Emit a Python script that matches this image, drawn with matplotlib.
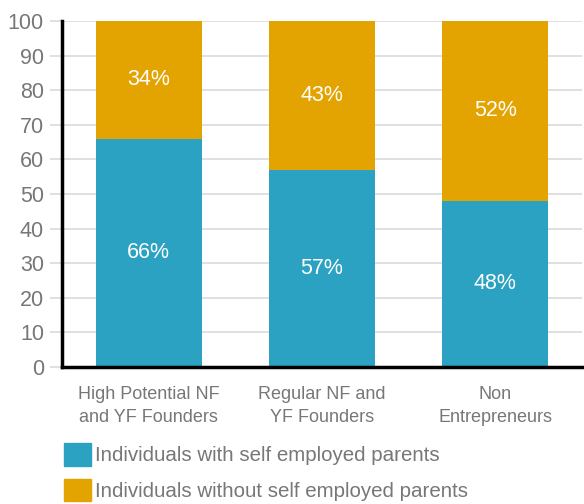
import matplotlib
matplotlib.use('Agg')
import matplotlib.pyplot as plt
from matplotlib.patches import Patch

plt.rcParams['font.family'] = ['Liberation Sans', 'DejaVu Sans']

categories = ['High Potential NF\nand YF Founders', 'Regular NF and\nYF Founders', 'Non\nEntrepreneurs']
with_parents = [66, 57, 48]
without_parents = [34, 43, 52]
series_names = ['Individuals with self employed parents', 'Individuals without self employed parents']
yticks = [0, 10, 20, 30, 40, 50, 60, 70, 80, 90, 100]

blue = '#2ba2c2'
orange = '#e3a300'
grey = '#777777'

fig = plt.figure(figsize=(5.84, 5.04), dpi=100)
ax = fig.add_axes([62/584, 1 - 367/504, 520/584, 346/504])

x = list(range(len(categories)))
w = 0.61
ax.bar(x, with_parents, w, color=blue, zorder=2)
ax.bar(x, without_parents, w, bottom=with_parents, color=orange, zorder=2)

for i in x:
    ax.text(i, with_parents[i] / 2, f'{with_parents[i]}%', ha='center', va='center',
            color='white', fontsize=15.5)
    ax.text(i, with_parents[i] + without_parents[i] / 2, f'{without_parents[i]}%',
            ha='center', va='center', color='white', fontsize=15.5)

ax.set_xlim(-0.5, 2.5)
ax.set_ylim(0, 100)
ax.set_yticks(yticks)
ax.set_xticks(x)
ax.set_xticklabels(categories, fontsize=13, color=grey, linespacing=1.4)
ax.tick_params(axis='x', length=0, pad=14)
ax.tick_params(axis='y', length=9, width=1.3, color='#dddddd', labelsize=15.5,
               labelcolor=grey, pad=4)
ax.yaxis.grid(True, color='#dddddd', lw=1.3, zorder=0)
ax.set_axisbelow(True)

for s in ['top', 'right']:
    ax.spines[s].set_visible(False)
ax.spines['left'].set_linewidth(2.5)
ax.spines['bottom'].set_linewidth(2.5)
ax.spines['left'].set_zorder(3)
ax.spines['bottom'].set_zorder(3)

handles = [Patch(color=blue), Patch(color=orange)]
fig.legend(handles, series_names, loc='upper left', bbox_to_anchor=(50/584, 1 - 429/504),
           frameon=False, fontsize=14.8, handlelength=1.3, handleheight=1.3,
           handletextpad=0.2, labelspacing=0.62, labelcolor=grey, borderpad=0.2)

fig.savefig('out.png', dpi=100)
